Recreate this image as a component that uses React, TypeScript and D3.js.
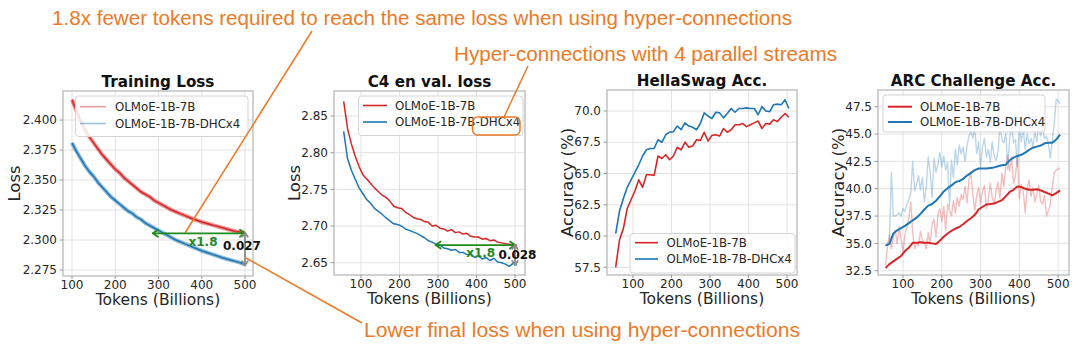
import React from "react";
import * as d3 from "d3";

const W = 1080;
const H = 351;
const RED = "#d62728";
const BLUE = "#1f77b4";
const ORANGE = "#ec7a26";
const GREEN = "#1f8a1f";
const TXT = "#262626";
const FONT = "'DejaVu Sans', Verdana, sans-serif";
const NOTE_FONT = "'Liberation Sans Narrow', 'Liberation Sans', Arial, sans-serif";

const legendNames = ["OLMoE-1B-7B", "OLMoE-1B-7B-DHCx4"];
const xTicks = [100, 200, 300, 400, 500];

// training loss, every 10B tokens
const trainTokens = [100, 110, 120, 130, 140, 150, 160, 170, 180, 190, 200, 210, 220, 230, 240, 250, 260, 270, 280, 290, 300,
  310, 320, 330, 340, 350, 360, 370, 380, 390, 400, 410, 420, 430, 440, 450, 460, 470, 480, 490, 500];
const trainBase = [2.417, 2.408, 2.399, 2.392, 2.386, 2.381, 2.376, 2.371, 2.367, 2.363, 2.359, 2.356, 2.352, 2.349, 2.346,
  2.343, 2.340, 2.338, 2.336, 2.333, 2.331, 2.329, 2.327, 2.325, 2.3235, 2.322, 2.3205, 2.319, 2.3175, 2.3163, 2.315, 2.314,
  2.313, 2.312, 2.311, 2.310, 2.309, 2.308, 2.307, 2.3065, 2.306];
const trainDhc = [2.381, 2.374, 2.368, 2.362, 2.357, 2.353, 2.348, 2.344, 2.340, 2.336, 2.333, 2.330, 2.327, 2.324, 2.322,
  2.319, 2.317, 2.314, 2.312, 2.310, 2.308, 2.306, 2.304, 2.302, 2.300, 2.2985, 2.297, 2.2955, 2.294, 2.2925, 2.291, 2.2898,
  2.2886, 2.2874, 2.2862, 2.285, 2.284, 2.283, 2.282, 2.281, 2.2795];

// eval checkpoints, every 10B tokens
const evalTokens = [55, 65, 75, 85, 95, 105, 115, 125, 135, 145, 155, 165, 175, 185, 195, 205, 215, 225, 235, 245, 255, 265,
  275, 285, 295, 305, 315, 325, 335, 345, 355, 365, 375, 385, 395, 405, 415, 425, 435, 445, 455, 465, 475, 485, 495, 505];
const c4Base = [2.870, 2.833, 2.812, 2.795, 2.781, 2.770, 2.764, 2.758, 2.752, 2.747, 2.742, 2.739, 2.734, 2.727, 2.725,
  2.724, 2.719, 2.716, 2.712, 2.710, 2.709, 2.706, 2.705, 2.700, 2.701, 2.697, 2.696, 2.693, 2.695, 2.691, 2.692, 2.689,
  2.690, 2.686, 2.685, 2.685, 2.682, 2.683, 2.680, 2.681, 2.678, 2.677, 2.676, 2.675, 2.674, 2.674];
const c4Dhc = [2.829, 2.792, 2.776, 2.764, 2.752, 2.744, 2.736, 2.731, 2.724, 2.720, 2.716, 2.711, 2.707, 2.703, 2.702,
  2.700, 2.696, 2.694, 2.692, 2.690, 2.687, 2.684, 2.680, 2.678, 2.675, 2.674, 2.670, 2.669, 2.667, 2.668, 2.664, 2.664,
  2.661, 2.662, 2.657, 2.659, 2.655, 2.657, 2.653, 2.656, 2.651, 2.650, 2.648, 2.645, 2.649, 2.647];
const hsBase = [57.5, 59.7, 60.6, 62.2, 62.9, 63.6, 64.5, 63.9, 64.9, 64.9, 64.85, 66.4, 66.2, 66.5, 66.1, 66.4, 67.1, 66.9,
  67.5, 67.1, 67.2, 67.7, 67.65, 68.3, 67.6, 68.05, 68.1, 68.0, 68.6, 68.3, 68.5, 68.9, 68.9, 69.0, 68.75, 68.9, 69.05, 69.2,
  68.6, 69.0, 68.95, 69.3, 69.15, 69.5, 69.8, 69.5];
const hsDhc = [60.2, 62.0, 63.0, 63.9, 64.5, 65.1, 65.7, 66.4, 66.9, 67.0, 67.0, 67.7, 67.5, 68.1, 68.3, 68.35, 68.8, 68.5,
  69.05, 68.8, 68.7, 68.5, 69.0, 69.85, 69.6, 69.4, 69.9, 69.85, 69.45, 69.8, 70.2, 69.9, 70.2, 70.2, 70.25, 70.2, 70.2, 69.7,
  70.35, 70.0, 69.95, 70.5, 70.55, 70.5, 70.9, 70.2];
const arcBaseSmooth = [32.75, 33.1, 33.35, 33.6, 33.85, 34.3, 34.6, 35.05, 35.05, 35.1, 35.05, 35.05, 35.0, 34.95, 35.25,
  35.6, 35.9, 36.15, 36.35, 36.5, 36.75, 37.05, 37.3, 37.6, 38.1, 38.35, 38.55, 38.6, 38.65, 38.8, 38.95, 39.3, 39.7, 39.9,
  40.2, 40.15, 40.0, 39.9, 39.9, 39.95, 39.85, 39.7, 39.55, 39.4, 39.6, 39.85];
const arcDhcSmooth = [34.8, 34.95, 35.9, 36.2, 36.4, 36.6, 36.85, 37.1, 37.35, 37.7, 38.1, 38.45, 38.6, 38.9, 39.3, 39.75,
  40.05, 40.3, 40.6, 40.7, 40.9, 41.2, 41.45, 41.7, 41.85, 41.85, 41.85, 41.9, 41.95, 42.05, 42.15, 42.2, 42.6, 42.85, 43.0,
  43.1, 43.3, 43.55, 43.75, 43.85, 43.95, 44.15, 44.2, 44.2, 44.5, 44.95];

// raw ARC scores, every 5B tokens
const arcTokens = [55, 60, 65, 70, 75, 80, 85, 90, 95, 100, 105, 110, 115, 120, 125, 130, 135, 140, 145, 150, 155, 160, 165,
  170, 175, 180, 185, 190, 195, 200, 205, 210, 215, 220, 225, 230, 235, 240, 245, 250, 255, 260, 265, 270, 275, 280, 285, 290,
  295, 300, 305, 310, 315, 320, 325, 330, 335, 340, 345, 350, 355, 360, 365, 370, 375, 380, 385, 390, 395, 400, 405, 410, 415,
  420, 425, 430, 435, 440, 445, 450, 455, 460, 465, 470, 475, 480, 485, 490, 495, 500, 505];
const arcBaseRaw = [33.0, 34.6, 35.8, 34.5, 35.6, 36.2, 35.0, 36.5, 35.4, 34.2,
  35.8, 36.5, 37.3, 38.8, 36.0, 34.5, 35.0, 34.8, 36.1, 35.3,
  35.0, 34.5, 36.0, 34.9, 36.8, 37.2, 35.6, 37.6, 38.2, 37.0,
  38.4, 36.2, 38.6, 38.0, 37.5, 38.9, 37.8, 39.2, 38.4, 39.5,
  39.0, 40.2, 38.7, 40.8, 41.5, 39.6, 38.0, 39.4, 40.1, 38.6,
  39.8, 40.3, 38.2, 39.0, 40.5, 39.2, 38.6, 39.8, 40.6, 39.1,
  41.4, 40.2, 42.0, 43.1, 41.6, 42.9, 40.5, 41.2, 43.0, 39.1,
  40.4, 39.8, 37.8, 39.9, 40.8, 39.3, 40.1, 38.8, 39.5, 40.3,
  38.8, 38.6, 39.4, 37.5, 38.0, 38.6, 40.2, 41.5, 41.7, 41.8,
  41.9];
const arcDhcRaw = [34.8, 35.0, 35.2, 41.5, 37.5, 37.5, 37.6, 37.8, 37.5, 38.2,
  37.9, 38.6, 39.0, 39.6, 42.5, 39.8, 40.4, 41.2, 39.9, 41.0,
  38.8, 40.2, 42.9, 41.6, 39.2, 42.8, 41.5, 42.2, 43.3, 42.0,
  43.0, 41.7, 42.4, 38.4, 42.6, 41.0, 43.6, 42.2, 44.0, 43.2,
  43.8, 42.5, 43.9, 44.8, 45.3, 44.6, 45.6, 43.2, 44.3, 42.0,
  43.8, 44.6, 42.9, 43.6, 42.4, 44.3, 43.0, 42.6, 43.4, 45.8,
  44.5, 44.2, 45.1, 41.8, 44.6, 45.7, 44.2, 44.5, 42.0, 45.8,
  44.3, 45.5, 43.6, 45.0, 44.1, 44.6, 43.9, 45.2, 44.3, 45.9,
  44.8, 45.6, 44.6, 44.8, 44.0, 42.8, 44.5, 46.0, 48.2, 48.0,
  47.8];

type Series = { xs: number[]; ys: number[]; color: string; width: number; opacity?: number };
type Legend = { box: number[]; rows: number[]; sample: number[]; textX: number; width: number; opacity: number };
type PanelCfg = {
  title: string;
  ylabel: string;
  ylabelX: number;
  box: number[]; // x0, y0, x1, y1
  xDomain: number[];
  yDomain: number[];
  yTicks: number[];
  yFmt: string;
  series: Series[];
  legend: Legend;
};

const panels: PanelCfg[] = [
  {
    title: "Training Loss", ylabel: "Loss", ylabelX: 14,
    box: [63, 91, 253, 276], xDomain: [79.2, 518.5], yDomain: [2.27, 2.4242],
    yTicks: [2.275, 2.3, 2.325, 2.35, 2.375, 2.4], yFmt: ".3f",
    series: [
      { xs: trainTokens, ys: trainBase, color: RED, width: 4, opacity: 0.5 },
      { xs: trainTokens, ys: trainBase, color: RED, width: 1.5 },
      { xs: trainTokens, ys: trainDhc, color: BLUE, width: 4, opacity: 0.5 },
      { xs: trainTokens, ys: trainDhc, color: BLUE, width: 1.5 },
    ],
    legend: { box: [75.5, 96, 248, 136.5], rows: [106.7, 123.5], sample: [80, 106], textX: 115, width: 1.6, opacity: 0.45 },
  },
  {
    title: "C4 en val. loss", ylabel: "Loss", ylabelX: 294.5,
    box: [334, 91, 525, 275], xDomain: [29.9, 526], yDomain: [2.6332, 2.8841],
    yTicks: [2.65, 2.7, 2.75, 2.8, 2.85], yFmt: ".2f",
    series: [
      { xs: evalTokens, ys: c4Base, color: RED, width: 1.5 },
      { xs: evalTokens, ys: c4Dhc, color: BLUE, width: 1.5 },
    ],
    legend: { box: [358.5, 96, 523, 135.5], rows: [105.5, 122], sample: [363, 387], textX: 395, width: 1.6, opacity: 1 },
  },
  {
    title: "HellaSwag Acc.", ylabel: "Accuracy (%)", ylabelX: 567.5,
    box: [607, 90, 797, 275], xDomain: [32.5, 526], yDomain: [56.885, 71.68],
    yTicks: [57.5, 60, 62.5, 65, 67.5, 70], yFmt: ".1f",
    series: [
      { xs: evalTokens, ys: hsBase, color: RED, width: 1.6 },
      { xs: evalTokens, ys: hsDhc, color: BLUE, width: 1.6 },
    ],
    legend: { box: [630, 233.5, 795, 273], rows: [242.7, 259], sample: [635, 658], textX: 666.5, width: 1.6, opacity: 1 },
  },
  {
    title: "ARC Challenge Acc.", ylabel: "Accuracy (%)", ylabelX: 838.5,
    box: [878, 90, 1069, 275], xDomain: [35.5, 528], yDomain: [32.107, 49.03],
    yTicks: [32.5, 35, 37.5, 40, 42.5, 45, 47.5], yFmt: ".1f",
    series: [
      { xs: arcTokens, ys: arcBaseRaw, color: RED, width: 1.4, opacity: 0.3 },
      { xs: arcTokens, ys: arcDhcRaw, color: BLUE, width: 1.4, opacity: 0.3 },
      { xs: evalTokens, ys: arcBaseSmooth, color: RED, width: 2 },
      { xs: evalTokens, ys: arcDhcSmooth, color: BLUE, width: 2 },
    ],
    legend: { box: [883, 95, 1045, 132], rows: [106.7, 122], sample: [888, 912], textX: 920, width: 2, opacity: 1 },
  },
];

function scalesOf(p: PanelCfg) {
  const x = d3.scaleLinear().domain(p.xDomain).range([p.box[0], p.box[2]]);
  const y = d3.scaleLinear().domain(p.yDomain).range([p.box[3], p.box[1]]);
  return { x, y };
}

function Panel({ p }: { p: PanelCfg }) {
  const { x, y } = scalesOf(p);
  const [x0, y0, x1, y1] = p.box;
  const line = d3.line<[number, number]>().x((d) => x(d[0])).y((d) => y(d[1]));
  const fmt = d3.format(p.yFmt);
  const lg = p.legend;
  const cx = (x0 + x1) / 2;
  return (
    <g fontFamily={FONT} fill={TXT}>
      {/* grid */}
      {xTicks.map((t) => (
        <line key={"gx" + t} x1={x(t)} x2={x(t)} y1={y0} y2={y1} stroke="#e2e2e2" strokeWidth={1} />
      ))}
      {p.yTicks.map((t) => (
        <line key={"gy" + t} x1={x0} x2={x1} y1={y(t)} y2={y(t)} stroke="#e2e2e2" strokeWidth={1} />
      ))}
      {/* lines */}
      {p.series.map((s, i) => (
        <path
          key={i}
          d={line(s.xs.map((t, j) => [t, s.ys[j]] as [number, number])) || ""}
          fill="none"
          stroke={s.color}
          strokeWidth={s.width}
          strokeOpacity={s.opacity ?? 1}
          strokeLinejoin="round"
        />
      ))}
      <rect x={x0} y={y0} width={x1 - x0} height={y1 - y0} fill="none" stroke="#b8b8b8" strokeWidth={1.3} />
      {/* ticks */}
      {p.yTicks.map((t) => (
        <g key={"ty" + t}>
          <line x1={x0 - 3.5} x2={x0} y1={y(t)} y2={y(t)} stroke="#999" />
          <text x={x0 - 6} y={y(t)} dy="0.35em" textAnchor="end" fontSize={12}>
            {fmt(t)}
          </text>
        </g>
      ))}
      {xTicks.map((t) => (
        <g key={"tx" + t}>
          <line x1={x(t)} x2={x(t)} y1={y1} y2={y1 + 3} stroke="#999" />
          <text x={x(t)} y={y1 + 13} textAnchor="middle" fontSize={12}>
            {t}
          </text>
        </g>
      ))}
      <text x={cx} y={y1 + 28.5} textAnchor="middle" fontSize={15.5}>
        Tokens (Billions)
      </text>
      <text
        transform={`translate(${p.ylabelX},${(y0 + y1) / 2}) rotate(-90)`}
        dy="0.35em"
        textAnchor="middle"
        fontSize={16.5}
      >
        {p.ylabel}
      </text>
      <text x={cx} y={y0 - 4.5} textAnchor="middle" fontSize={15.2} fontWeight="bold" fill="#111">
        {p.title}
      </text>
      {/* legend */}
      <rect
        x={lg.box[0]}
        y={lg.box[1]}
        width={lg.box[2] - lg.box[0]}
        height={lg.box[3] - lg.box[1]}
        rx={3}
        fill="white"
        fillOpacity={0.85}
        stroke="#d4d4d4"
      />
      {[RED, BLUE].map((c, i) => (
        <g key={"lg" + i}>
          <line
            x1={lg.sample[0]}
            x2={lg.sample[1]}
            y1={lg.rows[i]}
            y2={lg.rows[i]}
            stroke={c}
            strokeWidth={lg.width}
            strokeOpacity={lg.opacity}
          />
          <text x={lg.textX} y={lg.rows[i]} dy="0.35em" fontSize={11.8}>
            {legendNames[i]}
          </text>
        </g>
      ))}
    </g>
  );
}

function DoubleArrow({ x1, y1, x2, y2, color, head = 5 }: any) {
  const horiz = Math.abs(y2 - y1) < 1;
  const h1 = horiz
    ? `M${x1 + head},${y1 - head * 0.7}L${x1},${y1}L${x1 + head},${y1 + head * 0.7}`
    : `M${x1 - head * 0.7},${y1 + head}L${x1},${y1}L${x1 + head * 0.7},${y1 + head}`;
  const h2 = horiz
    ? `M${x2 - head},${y2 - head * 0.7}L${x2},${y2}L${x2 - head},${y2 + head * 0.7}`
    : `M${x2 - head * 0.7},${y2 - head}L${x2},${y2}L${x2 + head * 0.7},${y2 - head}`;
  return (
    <g stroke={color} strokeWidth={1.8} fill="none" strokeLinecap="round" strokeLinejoin="round">
      <line x1={x1} y1={y1} x2={x2} y2={y2} />
      <path d={h1} />
      <path d={h2} />
    </g>
  );
}

// speed-up and final-gap notes on the two loss panels
const gapNotes = [
  { panel: 0, from: 287, to: 500, level: 2.3056, top: 2.306, bottom: 2.279, ratio: [403, 2.2986], gap: "0.027", gapAt: [493, 2.2953] },
  { panel: 1, from: 294, to: 500, level: 2.674, top: 2.674, bottom: 2.647, ratio: [411, 2.6628], gap: "0.028", gapAt: [506.5, 2.6605] },
];

export default function App() {
  return (
    <div style={{ position: "absolute", left: 0, top: 0, background: "white" }}>
      <svg width={W} height={H} viewBox={`0 0 ${W} ${H}`} style={{ display: "block" }}>
        <rect width={W} height={H} fill="white" />
        {panels.map((p, i) => (
          <Panel key={i} p={p} />
        ))}
        {gapNotes.map((n, i) => {
          const { x, y } = scalesOf(panels[n.panel]);
          return (
            <g key={"gn" + i} fontFamily={FONT} fontWeight="bold" fontSize={12}>
              <DoubleArrow x1={x(n.from)} y1={y(n.level)} x2={x(n.to)} y2={y(n.level)} color={GREEN} />
              <DoubleArrow x1={x(n.to)} y1={y(n.top)} x2={x(n.to)} y2={y(n.bottom)} color="#8a8a8a" head={4} />
              <text x={x(n.ratio[0])} y={y(n.ratio[1])} dy="0.35em" textAnchor="middle" fill={GREEN}>
                x1.8
              </text>
              <text x={x(n.gapAt[0])} y={y(n.gapAt[1])} dy="0.35em" textAnchor="middle" fill="#111">
                {n.gap}
              </text>
            </g>
          );
        })}
        {/* orange call-outs */}
        <g stroke={ORANGE} strokeWidth={1.5} fill="none">
          <line x1={312} y1={31} x2={185} y2={233} />
          <line x1={528} y1={66} x2={504} y2={117} />
          <line x1={246} y1={258} x2={362} y2={323} />
          <rect x={472.5} y={117} width={47.5} height={18} rx={5} />
        </g>
        <g fill={ORANGE} fontFamily={NOTE_FONT} fontSize={20}>
          <text x={52} y={25} textLength={740} lengthAdjust="spacingAndGlyphs">
            1.8x fewer tokens required to reach the same loss when using hyper-connections
          </text>
          <text x={454} y={61} textLength={383} lengthAdjust="spacingAndGlyphs">
            Hyper-connections with 4 parallel streams
          </text>
          <text x={364} y={337} textLength={436} lengthAdjust="spacingAndGlyphs">
            Lower final loss when using hyper-connections
          </text>
        </g>
      </svg>
    </div>
  );
}
